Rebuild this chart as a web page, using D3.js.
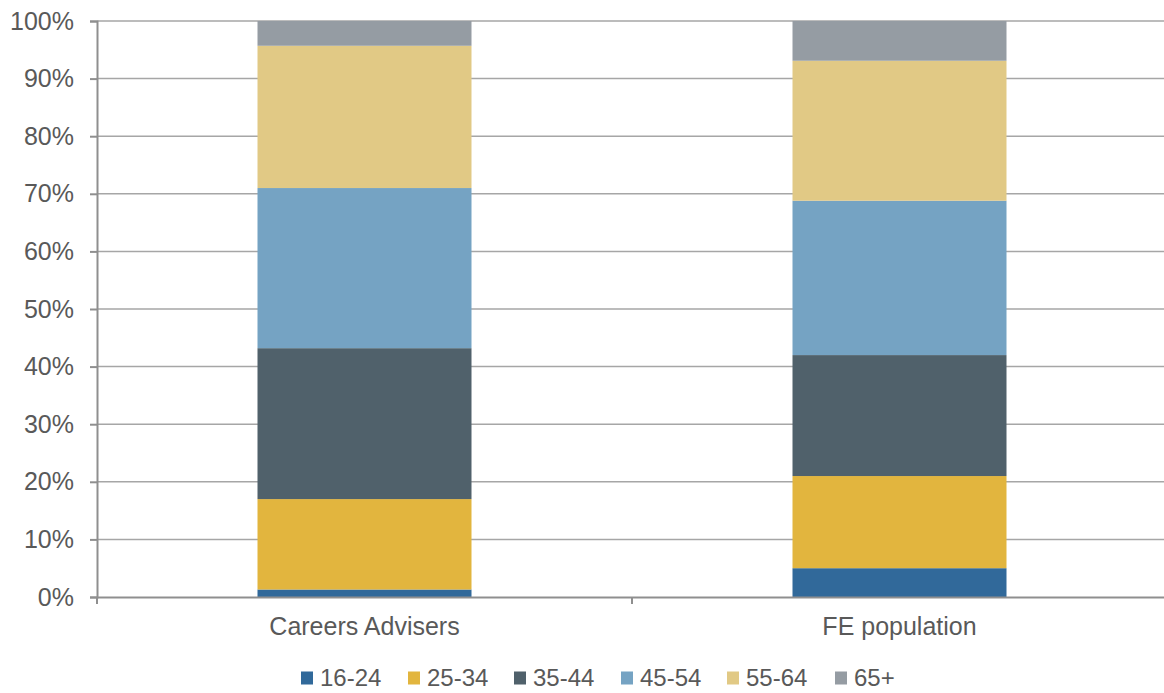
<!DOCTYPE html>
<html>
<head>
<meta charset="utf-8">
<script src="https://cdn.jsdelivr.net/npm/d3@7"></script>
<style>
  html, body { margin: 0; padding: 0; background: #fff; }
  svg { display: block; font-family: "Liberation Sans", Arial, sans-serif; }
</style>
</head>
<body>
<svg id="chart" width="1164" height="693"></svg>
<script>
const categories = ["Careers Advisers", "FE population"];
const seriesNames = ["16-24", "25-34", "35-44", "45-54", "55-64", "65+"];
const s16_24 = [1.3, 5.0];
const s25_34 = [15.7, 16.0];
const s35_44 = [26.2, 21.0];
const s45_54 = [27.8, 26.8];
const s55_64 = [24.7, 24.3];
const s65plus = [4.3, 6.9];
const seriesColors = ["#31699a", "#e2b53e", "#50616b", "#75a3c3", "#e1c985", "#959ca3"];
const yTicks = [0, 10, 20, 30, 40, 50, 60, 70, 80, 90, 100];

const seriesValues = [s16_24, s25_34, s35_44, s45_54, s55_64, s65plus];
const rows = categories.map((c, i) => {
  const r = { category: c };
  seriesNames.forEach((s, j) => { r[s] = seriesValues[j][i]; });
  return r;
});

const svg = d3.select("#chart");
const margin = { left: 97, right: -3, top: 21, bottom: 96 };
const W = 1164, H = 693;

const x = d3.scaleBand().domain(categories)
  .range([margin.left, W - margin.right])
  .paddingInner(0).paddingOuter(0);
const barPad = 0.3;
const y = d3.scaleLinear().domain([0, 100]).range([H - margin.bottom, margin.top]);

const textColor = "#595959";
const gridColor = "#a6a6a6";
const axisColor = "#8f8f8f";

// gridlines
svg.append("g").selectAll("line").data(yTicks.filter(d => d > 0)).join("line")
  .attr("x1", margin.left).attr("x2", W)
  .attr("y1", d => y(d)).attr("y2", d => y(d))
  .attr("stroke", gridColor).attr("stroke-width", 1.5);

// stacked bars
const stack = d3.stack().keys(seriesNames)(rows);
const bw = x.bandwidth() * (1 - 2 * barPad);
svg.append("g").selectAll("g").data(stack).join("g")
  .attr("fill", (d, i) => seriesColors[i])
  .selectAll("rect").data(d => d).join("rect")
  .attr("x", d => x(d.data.category) + x.bandwidth() * barPad)
  .attr("width", bw)
  .attr("y", d => y(d[1]))
  .attr("height", d => y(d[0]) - y(d[1]));

// y axis
const yAxis = d3.axisLeft(y).tickValues(yTicks).tickFormat(d => d + "%").tickSize(7).tickPadding(16);
const gy = svg.append("g").attr("transform", `translate(${margin.left},0)`).call(yAxis);
gy.select(".domain").attr("stroke", axisColor).attr("stroke-width", 2);
gy.selectAll(".tick line").attr("stroke", axisColor).attr("stroke-width", 2);
gy.selectAll(".tick text").attr("fill", textColor).style("font-size", "25px")
  .style("font-family", "Liberation Sans, Arial, sans-serif");

// x axis
const xAxis = d3.axisBottom(x).tickSize(0).tickPadding(20);
const gx = svg.append("g").attr("transform", `translate(0,${y(0)})`).call(xAxis);
gx.select(".domain").attr("stroke", axisColor).attr("stroke-width", 2);
gx.selectAll(".tick text").attr("fill", textColor).style("font-size", "25px")
  .style("font-family", "Liberation Sans, Arial, sans-serif");
// category boundary ticks
const bounds = [x.range()[0], ...categories.slice(1).map(c => x(c))];
gx.append("g").selectAll("line").data(bounds).join("line")
  .attr("x1", d => d).attr("x2", d => d).attr("y1", 0).attr("y2", 7)
  .attr("stroke", axisColor).attr("stroke-width", 2);

// legend
const legendX = [301, 408, 514, 621, 727, 835];
const legendY = 678;
const lg = svg.append("g").selectAll("g").data(seriesNames).join("g")
  .attr("transform", (d, i) => `translate(${legendX[i]},${legendY})`);
lg.append("rect").attr("x", 0).attr("y", -6.5).attr("width", 12).attr("height", 13)
  .attr("fill", (d, i) => seriesColors[i]);
lg.append("text").attr("x", 19).attr("y", 0).attr("dy", "0.35em")
  .attr("fill", textColor).style("font-size", "24px").text(d => d);
</script>
</body>
</html>
